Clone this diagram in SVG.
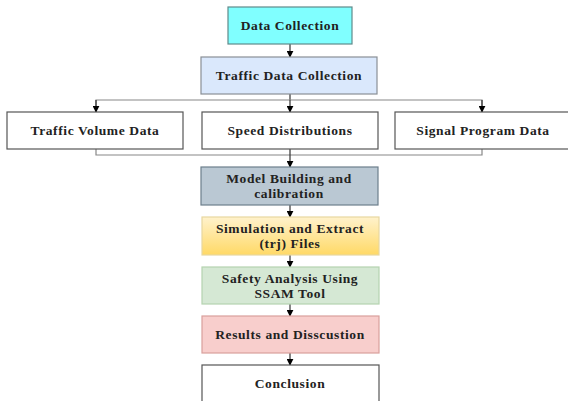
<svg xmlns="http://www.w3.org/2000/svg" width="568" height="401" viewBox="0 0 568 401">
  <defs>
    <marker id="arrow" viewBox="0 0 10 10" refX="9" refY="5" markerWidth="7" markerHeight="7" orient="auto" markerUnits="userSpaceOnUse">
      <path d="M0,0 L10,5 L0,10 z" fill="#000"/>
    </marker>
    <linearGradient id="simGrad" x1="0" y1="0" x2="0" y2="1">
      <stop offset="0" stop-color="#fff2cc"/>
      <stop offset="1" stop-color="#ffd966"/>
    </linearGradient>
    <style>
      .box { stroke-width: 1.2; }
      .lbl { font-family: "Liberation Serif", "Times New Roman", serif; font-weight: bold; font-size: 13.5px; letter-spacing: 0.6px; fill: #222; text-anchor: middle; }
      .conn { fill: none; stroke: #333; stroke-width: 1.2; }
      .conn-g { fill: none; stroke: #888; stroke-width: 1.2; }
    </style>
  </defs>
  <rect width="568" height="401" fill="#fff"/>

  <!-- connectors -->
  <g id="connectors">
    <line class="conn" x1="290" y1="44" x2="290" y2="57" marker-end="url(#arrow)"/>
    <line class="conn" x1="290" y1="94" x2="290" y2="100"/>
    <polyline class="conn-g" points="96,112 96,100 482,100 482,112"/>
    <line class="conn" x1="96" y1="100" x2="96" y2="112" marker-end="url(#arrow)"/>
    <line class="conn" x1="290" y1="100" x2="290" y2="112" marker-end="url(#arrow)"/>
    <line class="conn" x1="482" y1="100" x2="482" y2="112" marker-end="url(#arrow)"/>
    <polyline class="conn-g" points="96,149 96,155 482,155 482,149"/>
    <line class="conn" x1="290" y1="149" x2="290" y2="167" marker-end="url(#arrow)"/>
    <line class="conn" x1="290" y1="205" x2="290" y2="217" marker-end="url(#arrow)"/>
    <line class="conn" x1="290" y1="255" x2="290" y2="267" marker-end="url(#arrow)"/>
    <line class="conn" x1="290" y1="304" x2="290" y2="316" marker-end="url(#arrow)"/>
    <line class="conn" x1="290" y1="353" x2="290" y2="365" marker-end="url(#arrow)"/>
  </g>

  <g id="data-collection">
    <rect class="box" x="228" y="7" width="124" height="37" fill="#80ffff" stroke="#5f8a8a"/>
    <text class="lbl" x="290" y="30">Data Collection</text>
  </g>
  <g id="traffic-data-collection">
    <rect class="box" x="201" y="57" width="176" height="37" fill="#dae8fc" stroke="#8a8f96"/>
    <text class="lbl" x="289" y="80">Traffic Data Collection</text>
  </g>
  <g id="traffic-volume-data">
    <rect class="box" x="7" y="112" width="176" height="37" fill="#fff" stroke="#555"/>
    <text class="lbl" x="95" y="135">Traffic Volume Data</text>
  </g>
  <g id="speed-distributions">
    <rect class="box" x="202" y="112" width="176" height="37" fill="#fff" stroke="#555"/>
    <text class="lbl" x="290" y="135">Speed Distributions</text>
  </g>
  <g id="signal-program-data">
    <rect class="box" x="395" y="112" width="176" height="37" fill="#fff" stroke="#555"/>
    <text class="lbl" x="483" y="135">Signal Program Data</text>
  </g>
  <g id="model-building">
    <rect class="box" x="201" y="167" width="177" height="38" fill="#bac8d3" stroke="#6d7f8c"/>
    <text class="lbl" x="289" y="183">Model Building and</text>
    <text class="lbl" x="289" y="198">calibration</text>
  </g>
  <g id="simulation">
    <rect class="box" x="202" y="217" width="177" height="38" fill="url(#simGrad)" stroke="#e8d7a0"/>
    <text class="lbl" x="290" y="233">Simulation and Extract</text>
    <text class="lbl" x="290" y="248">(trj) Files</text>
  </g>
  <g id="safety-analysis">
    <rect class="box" x="202" y="267" width="177" height="37" fill="#d5e8d4" stroke="#b5d3b0"/>
    <text class="lbl" x="290" y="283">Safety Analysis Using</text>
    <text class="lbl" x="290" y="298">SSAM Tool</text>
  </g>
  <g id="results">
    <rect class="box" x="202" y="316" width="177" height="37" fill="#f8cecc" stroke="#d9a09c"/>
    <text class="lbl" x="290" y="339">Results and Disscustion</text>
  </g>
  <g id="conclusion">
    <rect class="box" x="202" y="365" width="177" height="38" fill="#fff" stroke="#555"/>
    <text class="lbl" x="290" y="388">Conclusion</text>
  </g>
</svg>
